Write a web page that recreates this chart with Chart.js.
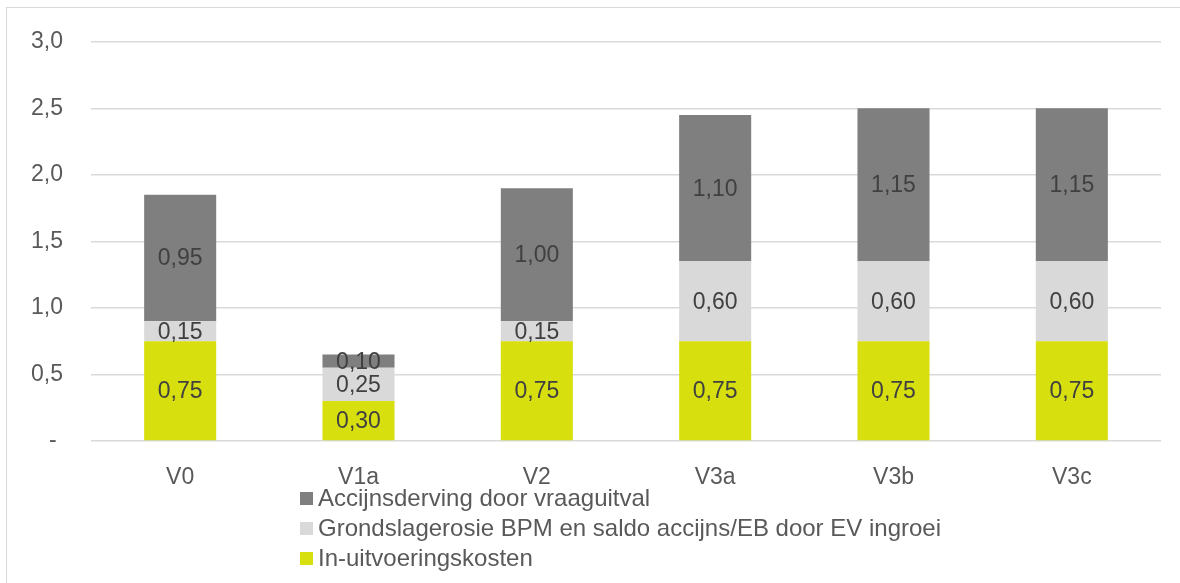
<!DOCTYPE html>
<html>
<head>
<meta charset="utf-8">
<script src="https://cdn.jsdelivr.net/npm/chart.js@4/dist/chart.umd.min.js"></script>
<style>
  html, body { margin: 0; padding: 0; background: #fff; }
  body { width: 1180px; height: 583px; overflow: hidden; position: relative; font-family: "Liberation Sans", Arial, sans-serif; }
  #frame { position: absolute; left: 6px; top: 7px; width: 1200px; height: 600px; border: 1px solid #d9d9d9; box-sizing: border-box; }
  #wrap { position: absolute; left: 0; top: 0; width: 1180px; height: 583px; }
  #legend { position: absolute; left: 300px; top: 483px; font-size: 24px; color: #595959; }
  #legend div { height: 30px; line-height: 30px; white-space: nowrap; }
  #legend span.box { display: inline-block; width: 13px; height: 13px; margin-right: 5px; vertical-align: 1px; }
</style>
</head>
<body>
<div id="frame"></div>
<div id="wrap"><canvas id="chart"></canvas></div>
<div id="legend"></div>
<script>
const categories = ['V0', 'V1a', 'V2', 'V3a', 'V3b', 'V3c'];
const uitvoering = [0.75, 0.30, 0.75, 0.75, 0.75, 0.75];
const grondslag = [0.15, 0.25, 0.15, 0.60, 0.60, 0.60];
const accijns = [0.95, 0.10, 1.00, 1.10, 1.15, 1.15];
const seriesNames = [
    'In-uitvoeringskosten',
    'Grondslagerosie BPM en saldo accijns/EB door EV ingroei',
    'Accijnsderving door vraaguitval'
];
const seriesColors = ['#d7df0f', '#d9d9d9', '#7f7f7f'];

const FONT = '"Liberation Sans", Arial, sans-serif';
const fmt = v => v.toFixed(2).replace('.', ',');

// draws the value in the middle of each bar segment
const segmentLabels = {
    id: 'segmentLabels',
    afterDatasetsDraw(chart) {
        const ctx = chart.ctx;
        ctx.save();
        ctx.font = '23px ' + FONT;
        ctx.fillStyle = '#404040';
        ctx.textAlign = 'center';
        ctx.textBaseline = 'middle';
        chart.data.datasets.forEach((ds, i) => {
            chart.getDatasetMeta(i).data.forEach((bar, j) => {
                const mid = (bar.y + bar.base) / 2;
                ctx.fillText(fmt(ds.data[j]), bar.x, mid + 1);
            });
        });
        ctx.restore();
    }
};

const ctx = document.getElementById('chart').getContext('2d');

const chart = new Chart(ctx, {
    type: 'bar',
    data: {
        labels: categories,
        datasets: [
            { label: seriesNames[0], data: uitvoering, backgroundColor: seriesColors[0] },
            { label: seriesNames[1], data: grondslag, backgroundColor: seriesColors[1] },
            { label: seriesNames[2], data: accijns, backgroundColor: seriesColors[2] }
        ]
    },
    options: {
        responsive: true,
        maintainAspectRatio: false,
        animation: false,
        datasets: { bar: { categoryPercentage: 1, barPercentage: 0.404 } },
        layout: { padding: { top: 37, right: 19, left: 0, bottom: 0 } },
        plugins: {
            legend: { display: false },
            tooltip: { enabled: false }
        },
        scales: {
            x: {
                stacked: true,
                grid: { display: false },
                border: { display: false },
                ticks: { color: '#595959', font: { size: 23, family: FONT }, padding: 15 },
                afterFit: s => { s.height = 142; }
            },
            y: {
                stacked: true,
                min: 0,
                max: 3,
                grid: { color: '#d9d9d9', lineWidth: 1.5, drawTicks: false },
                border: { display: false },
                ticks: {
                    stepSize: 0.5,
                    color: '#595959',
                    padding: 28,
                    font: { size: 23, family: FONT },
                    callback: v => v === 0 ? '- ' : v.toFixed(1).replace('.', ',')
                },
                afterFit: s => { s.width = 91; }
            }
        }
    },
    plugins: [segmentLabels]
});

// legend: top segment first, as in the original
const legend = document.getElementById('legend');
legend.innerHTML = chart.data.datasets.slice().reverse().map(ds => `
    <div><span class="box" style="background:${ds.backgroundColor}"></span>${ds.label}</div>
`).join('');
</script>
</body>
</html>
